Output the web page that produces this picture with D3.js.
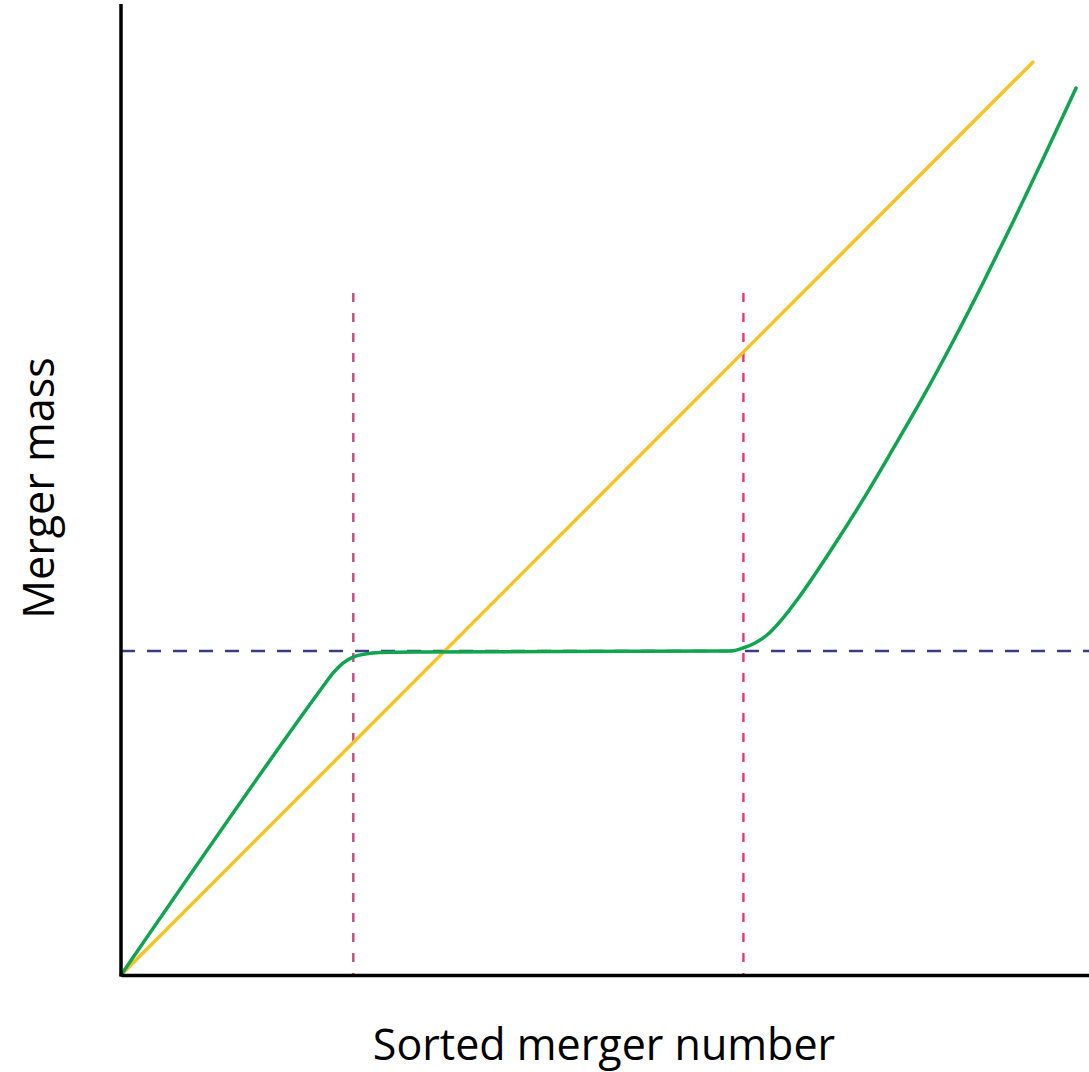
<!DOCTYPE html>
<html>
<head>
<meta charset="utf-8">
<script src="https://cdn.jsdelivr.net/npm/d3@7"></script>
<style>
  html, body { margin: 0; padding: 0; background: #fff; }
  svg { display: block; }
</style>
</head>
<body>
<svg id="chart" width="1089" height="1072"></svg>
<script>
// ---- data (arbitrary units: sorted merger number 0..100, merger mass 0..100) ----
const yellowX = [0, 94.2];
const yellowY = [0, 94.1];

const greenX = [0, 20.14, 20.97, 21.90, 22.93, 23.97, 25.21, 26.76, 30.89, 45.0, 63.02, 64.26, 65.50, 66.74, 68.39, 69.83, 73.55, 76.65, 79.75, 82.85, 85.95, 89.05, 92.15, 95.25, 98.66];
const greenY = [0, 28.76, 29.90, 31.13, 32.16, 32.78, 33.09, 33.25, 33.30, 33.35, 33.40, 33.71, 34.23, 35.05, 36.80, 38.66, 44.12, 49.00, 54.23, 59.59, 65.31, 71.34, 77.63, 84.12, 91.44];

const thresholdMass = 33.4;        // horizontal dashed line
const splitNumbers = [24.0, 64.3]; // vertical dashed lines
const splitTop = 70.3;
const splitColors = ["#C8457D", "#EA3670"];

const xLabel = "Sorted merger number";
const yLabel = "Merger mass";

// ---- scales ----
const svg = d3.select("#chart");
const x = d3.scaleLinear().domain([0, 100]).range([121, 1089]);
const y = d3.scaleLinear().domain([0, 100]).range([975, 5]);

const line = d3.line().x(d => x(d[0])).y(d => y(d[1]));

// threshold dashed line
svg.append("line")
  .attr("x1", x(0)).attr("x2", x(100))
  .attr("y1", y(thresholdMass)).attr("y2", y(thresholdMass))
  .attr("stroke", "#3B3A84").attr("stroke-width", 2.4)
  .attr("stroke-dasharray", "14,12");

// vertical split lines
splitNumbers.forEach((v, i) => {
  svg.append("line")
    .attr("x1", x(v)).attr("x2", x(v))
    .attr("y1", y(splitTop)).attr("y2", y(0))
    .attr("stroke", splitColors[i]).attr("stroke-width", 2.4)
    .attr("stroke-dasharray", "9,11");
});

// yellow line
svg.append("path")
  .datum(yellowX.map((d, i) => [d, yellowY[i]]))
  .attr("d", line)
  .attr("fill", "none").attr("stroke", "#F7C324").attr("stroke-width", 3.5)
  .attr("stroke-linecap", "round");

// green curve
svg.append("path")
  .datum(greenX.map((d, i) => [d, greenY[i]]))
  .attr("d", line.curve(d3.curveMonotoneX))
  .attr("fill", "none").attr("stroke", "#10A350").attr("stroke-width", 3.5)
  .attr("stroke-linecap", "round").attr("stroke-linejoin", "round");

// axes (no ticks)
const xAxis = d3.axisBottom(x).tickValues([]).tickSizeOuter(0);
const yAxis = d3.axisLeft(y).tickValues([]).tickSizeOuter(0);
const gx = svg.append("g").attr("transform", `translate(0,${y(0)})`).call(xAxis);
const gy = svg.append("g").attr("transform", `translate(${x(0)},0)`).call(yAxis);
[gx, gy].forEach(g => g.select(".domain").attr("stroke", "#000").attr("stroke-width", 3.5));
gy.select(".domain").attr("d", `M0,${y(0) + 1.5}V${y(100) - 1}`);

// labels
svg.append("text")
  .attr("x", 604).attr("y", 1060)
  .attr("text-anchor", "middle")
  .attr("font-family", "'Open Sans', sans-serif")
  .attr("font-size", 43)
  .attr("fill", "#000")
  .text(xLabel);

svg.append("text")
  .attr("transform", "translate(54,488) rotate(-90)")
  .attr("text-anchor", "middle")
  .attr("font-family", "'Open Sans', sans-serif")
  .attr("font-size", 43)
  .attr("fill", "#000")
  .text(yLabel);
</script>
</body>
</html>
